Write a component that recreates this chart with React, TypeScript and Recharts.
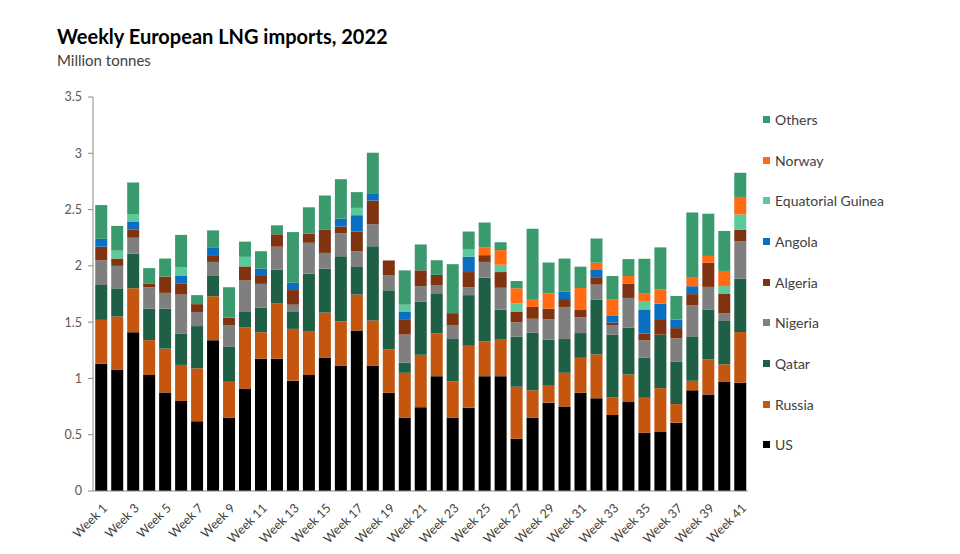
import { BarChart, Bar, XAxis, YAxis, Legend } from "recharts";

const FONT = "Lato, 'Open Sans', sans-serif";

const WEEKS = Array.from({ length: 41 }, (_, i) => `Week ${i + 1}`);

const US = [1.13, 1.08, 1.41, 1.03, 0.875, 0.8, 0.62, 1.34, 0.65, 0.91, 1.175, 1.175, 0.98, 1.03, 1.185, 1.115, 1.425, 1.115, 0.873, 0.65, 0.745, 1.02, 0.65, 0.74, 1.02, 1.02, 0.465, 0.65, 0.785, 0.75, 0.873, 0.823, 0.675, 0.79, 0.518, 0.524, 0.607, 0.894, 0.858, 0.968, 0.962];
const RUSSIA = [0.39, 0.47, 0.39, 0.31, 0.39, 0.32, 0.47, 0.39, 0.32, 0.545, 0.235, 0.49, 0.46, 0.385, 0.4, 0.39, 0.32, 0.4, 0.385, 0.4, 0.465, 0.38, 0.325, 0.55, 0.31, 0.33, 0.46, 0.245, 0.15, 0.3, 0.31, 0.39, 0.155, 0.245, 0.31, 0.39, 0.165, 0.085, 0.31, 0.157, 0.45];
const QATAR = [0.31, 0.25, 0.31, 0.28, 0.355, 0.28, 0.375, 0.18, 0.31, 0.135, 0.22, 0.3, 0.15, 0.515, 0.39, 0.58, 0.245, 0.66, 0.525, 0.09, 0.47, 0.35, 0.375, 0.45, 0.565, 0.26, 0.445, 0.51, 0.41, 0.3, 0.22, 0.485, 0.56, 0.415, 0.355, 0.475, 0.375, 0.395, 0.445, 0.385, 0.475];
const NIGERIA = [0.22, 0.2, 0.14, 0.19, 0.14, 0.345, 0.125, 0.125, 0.19, 0.28, 0.21, 0.205, 0.065, 0.275, 0.14, 0.205, 0.14, 0.195, 0.135, 0.25, 0.14, 0.08, 0.125, 0.07, 0.14, 0.195, 0.13, 0.125, 0.18, 0.285, 0.14, 0.135, 0.08, 0.265, 0.155, 0, 0.21, 0.275, 0.2, 0.07, 0.33];
const ALGERIA = [0.12, 0.065, 0.07, 0.03, 0.145, 0.1, 0.07, 0.06, 0.07, 0.125, 0.07, 0.11, 0.13, 0.08, 0.205, 0.06, 0.175, 0.21, 0.13, 0.13, 0.14, 0.09, 0.105, 0.135, 0.06, 0.14, 0.09, 0.105, 0.095, 0.07, 0.065, 0.06, 0.025, 0.125, 0.06, 0.13, 0.09, 0.1, 0.215, 0.17, 0.105];
const ANGOLA = [0.07, 0, 0.07, 0, 0, 0.07, 0, 0.07, 0, 0, 0.065, 0, 0.065, 0, 0, 0.07, 0.145, 0.065, 0, 0.07, 0, 0, 0, 0.135, 0, 0, 0, 0, 0, 0.065, 0, 0.07, 0.06, 0, 0.215, 0.145, 0.075, 0.07, 0, 0, 0];
const EQ_GUINEA = [0, 0.07, 0.07, 0, 0, 0.075, 0, 0, 0, 0.085, 0, 0, 0, 0, 0, 0, 0.065, 0, 0, 0.065, 0, 0, 0, 0.07, 0, 0.065, 0.075, 0, 0, 0, 0, 0, 0, 0, 0.075, 0, 0, 0, 0, 0.07, 0.135];
const NORWAY = [0, 0, 0, 0, 0, 0, 0, 0, 0, 0, 0, 0, 0, 0, 0, 0, 0, 0, 0, 0, 0, 0, 0, 0, 0.07, 0.13, 0.135, 0.065, 0.135, 0, 0.195, 0.065, 0.145, 0.07, 0.07, 0.125, 0, 0.075, 0.06, 0.135, 0.155];
const OTHERS = [0.3, 0.22, 0.28, 0.14, 0.16, 0.285, 0.08, 0.15, 0.27, 0.135, 0.155, 0.08, 0.45, 0.235, 0.305, 0.35, 0.14, 0.36, 0, 0.305, 0.23, 0.13, 0.435, 0.155, 0.22, 0.07, 0.065, 0.63, 0.275, 0.295, 0.19, 0.215, 0.21, 0.15, 0.305, 0.375, 0.21, 0.58, 0.375, 0.355, 0.215];

const Y_TICKS = [0, 0.5, 1, 1.5, 2, 2.5, 3, 3.5];

// stacking order, bottom to top
const SERIES = [
  { key: "us", name: "US", color: "#000000", values: US },
  { key: "russia", name: "Russia", color: "#c5560f", values: RUSSIA },
  { key: "qatar", name: "Qatar", color: "#1f5f46", values: QATAR },
  { key: "nigeria", name: "Nigeria", color: "#7f7f7f", values: NIGERIA },
  { key: "algeria", name: "Algeria", color: "#7f3310", values: ALGERIA },
  { key: "angola", name: "Angola", color: "#0b6fc1", values: ANGOLA },
  { key: "eqguinea", name: "Equatorial Guinea", color: "#5cc99b", values: EQ_GUINEA },
  { key: "norway", name: "Norway", color: "#ff6a13", values: NORWAY },
  { key: "others", name: "Others", color: "#3a9a6e", values: OTHERS },
];

const data = WEEKS.map((week, i) => {
  const row: Record<string, string | number> = { week };
  SERIES.forEach(s => { row[s.key] = s.values[i]; });
  return row;
});

const WeekTick = (props: any) => {
  const { x, y, payload } = props;
  return (
    <g transform={`translate(${x},${y})`}>
      <text x={-2} y={12} textAnchor="end" transform="rotate(-45)" fontSize={12.5} fill="#404040" fontFamily={FONT}>
        {payload.value}
      </text>
    </g>
  );
};

const renderLegend = () => (
  <div style={{ fontFamily: FONT, fontSize: 14, color: "#404040" }}>
    {[...SERIES].reverse().map(s => (
      <div key={s.key} style={{ height: 40.7, display: "flex", alignItems: "center" }}>
        <span style={{ width: 7, height: 7, background: s.color, marginRight: 5, display: "inline-block" }} />
        {s.name}
      </div>
    ))}
  </div>
);

const App = () => {
  return (
    <div style={{ position: "absolute", left: 0, top: 0, width: 960, height: 554, background: "#fff" }}>
      <div style={{ position: "absolute", left: 57, top: 24, fontFamily: FONT, fontWeight: 700, fontSize: 20, color: "#000" }}>
        Weekly European LNG imports, 2022
      </div>
      <div style={{ position: "absolute", left: 57, top: 51, fontFamily: FONT, fontSize: 15, color: "#404040" }}>
        Million tonnes
      </div>
      <BarChart
        width={960}
        height={554}
        data={data}
        margin={{ top: 97, right: 212, bottom: 13, left: 0 }}
        barCategoryGap="14%"
      >
        <XAxis
          dataKey="week"
          interval={1}
          height={50}
          tick={<WeekTick />}
          tickLine={false}
          axisLine={{ stroke: "#8c8c8c" }}
        />
        <YAxis
          domain={[0, 3.5]}
          ticks={Y_TICKS}
          width={93}
          tickMargin={6}
          tickSize={5}
          tick={{ fontSize: 12.5, fill: "#595959", fontFamily: FONT }}
          axisLine={{ stroke: "#8c8c8c" }}
          tickLine={{ stroke: "#8c8c8c" }}
        />
        <Legend
          layout="vertical"
          align="center"
          verticalAlign="middle"
          content={renderLegend}
          wrapperStyle={{ left: 763, top: 99, width: 190 }}
        />
        {SERIES.map(s => (
          <Bar key={s.key} dataKey={s.key} name={s.name} stackId="a" fill={s.color} isAnimationActive={false} />
        ))}
      </BarChart>
    </div>
  );
};

export default App;
